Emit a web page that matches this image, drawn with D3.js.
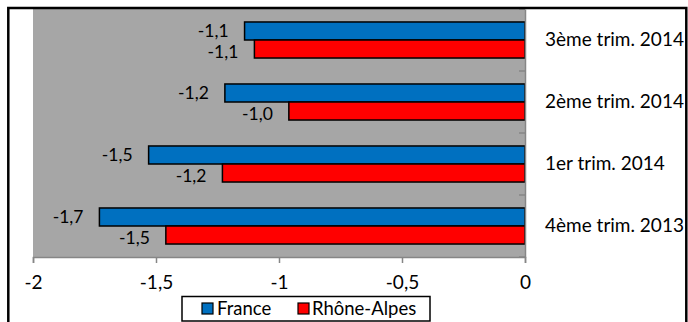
<!DOCTYPE html>
<html>
<head>
<meta charset="utf-8">
<script src="https://cdn.jsdelivr.net/npm/d3@7"></script>
<style>
  body { margin: 0; background: #fff; }
  text { font-family: Lato, "Liberation Sans", sans-serif; fill: #000; }
</style>
</head>
<body>
<svg id="chart" width="688" height="322"></svg>
<script>
// Quarters, listed top to bottom
const categories = ["3ème trim. 2014", "2ème trim. 2014", "1er trim. 2014", "4ème trim. 2013"];
const seriesNames = ["France", "Rhône-Alpes"];
const franceValues = [-1.14, -1.22, -1.53, -1.73];
const rhoneAlpesValues = [-1.10, -0.96, -1.23, -1.46];
const xTickValues = [-2, -1.5, -1, -0.5, 0];
const seriesColors = ["#0070C0", "#FF0000"];

const series = [
  { name: seriesNames[0], values: franceValues, color: seriesColors[0], labelShift: -0.5 },
  { name: seriesNames[1], values: rhoneAlpesValues, color: seriesColors[1], labelShift: 2.5 }
];

const frLocale = d3.formatLocale({ decimal: ",", thousands: " ", grouping: [3], currency: ["", " €"], minus: "-" });
const fmtTick = frLocale.format("~g");
const fmtLabel = frLocale.format(".1f");

const svg = d3.select("#chart");
const plot = { left: 33, right: 525, top: 9, bottom: 257 };
const fontSize = 19;
const labelSize = 17.5;

// Outer chart frame
svg.append("rect")
  .attr("x", 8.3).attr("y", 8).attr("width", 678).attr("height", 340)
  .attr("fill", "#fff");

// Plot area
svg.append("rect")
  .attr("x", plot.left).attr("y", plot.top)
  .attr("width", plot.right - plot.left).attr("height", plot.bottom - plot.top)
  .attr("fill", "#A6A6A6");

const x = d3.scaleLinear().domain([-2, 0]).range([plot.left, plot.right]);
const y = d3.scaleBand().domain(categories).range([plot.top, plot.bottom]).padding(0);
const yInner = d3.scaleBand().domain(seriesNames).range([0, y.bandwidth()]).paddingInner(0).paddingOuter(0.72);

// Bars
const groups = svg.append("g").selectAll("g")
  .data(series).join("g");

groups.selectAll("rect")
  .data(s => s.values.map((v, i) => ({ v, cat: categories[i], s })))
  .join("rect")
  .attr("x", d => x(d.v))
  .attr("y", d => y(d.cat) + yInner(d.s.name))
  .attr("width", d => x(0) - x(d.v))
  .attr("height", yInner.bandwidth())
  .attr("fill", d => d.s.color)
  .attr("stroke", "#000")
  .attr("stroke-width", 1.5);

// Data labels
groups.selectAll("text")
  .data(s => s.values.map((v, i) => ({ v, cat: categories[i], s })))
  .join("text")
  .attr("x", d => x(d.v) - 16)
  .attr("y", d => y(d.cat) + yInner(d.s.name) + yInner.bandwidth() / 2 + d.s.labelShift)
  .attr("dy", "0.36em")
  .attr("text-anchor", "end")
  .attr("font-size", labelSize)
  .text(d => fmtLabel(d.v));

// Value axis
const xAxis = svg.append("g")
  .attr("transform", `translate(0,${plot.bottom})`)
  .call(d3.axisBottom(x).tickValues(xTickValues).tickSize(6).tickPadding(13).tickFormat(fmtTick));
xAxis.select(".domain").attr("stroke", "#868686").attr("stroke-width", 1.5);
xAxis.selectAll(".tick line").attr("stroke", "#868686").attr("stroke-width", 1.5);
xAxis.selectAll("text").attr("font-size", fontSize).attr("font-family", null).attr("fill", "#000");

// Category axis along the zero line
const yAxis = svg.append("g")
  .attr("transform", `translate(${x(0)},0)`)
  .call(d3.axisRight(y).tickSize(0).tickPadding(20));
yAxis.select(".domain").attr("stroke", "#868686").attr("stroke-width", 1.5);
yAxis.selectAll("text").attr("font-size", fontSize).attr("font-family", null).attr("fill", "#000");

// Category boundary ticks pointing into the plot
const boundaries = categories.map(c => y(c)).concat([plot.bottom]);
svg.append("g").selectAll("line")
  .data(boundaries).join("line")
  .attr("x1", x(0) - 6).attr("x2", x(0))
  .attr("y1", d => d).attr("y2", d => d)
  .attr("stroke", "#868686").attr("stroke-width", 1.5);

// Legend
const legend = svg.append("g");
legend.append("rect")
  .attr("x", 182).attr("y", 296.5).attr("width", 248).attr("height", 24.5)
  .attr("fill", "#fff").attr("stroke", "#000").attr("stroke-width", 1.5);
const legendItems = [
  { s: series[0], sx: 202, tx: 217 },
  { s: series[1], sx: 298, tx: 312 }
];
legend.selectAll("rect.sw").data(legendItems).join("rect")
  .attr("class", "sw")
  .attr("x", d => d.sx).attr("y", 303).attr("width", 11).attr("height", 11)
  .attr("fill", d => d.s.color).attr("stroke", "#000").attr("stroke-width", 1.2);
legend.selectAll("text").data(legendItems).join("text")
  .attr("x", d => d.tx).attr("y", 315)
  .attr("font-size", 18.5)
  .text(d => d.s.name);

// Frame border on top
svg.append("path")
  .attr("d", "M8.3,330 V8 H686.3 V330")
  .attr("fill", "none").attr("stroke", "#000").attr("stroke-width", 2.5);
</script>
</body>
</html>
